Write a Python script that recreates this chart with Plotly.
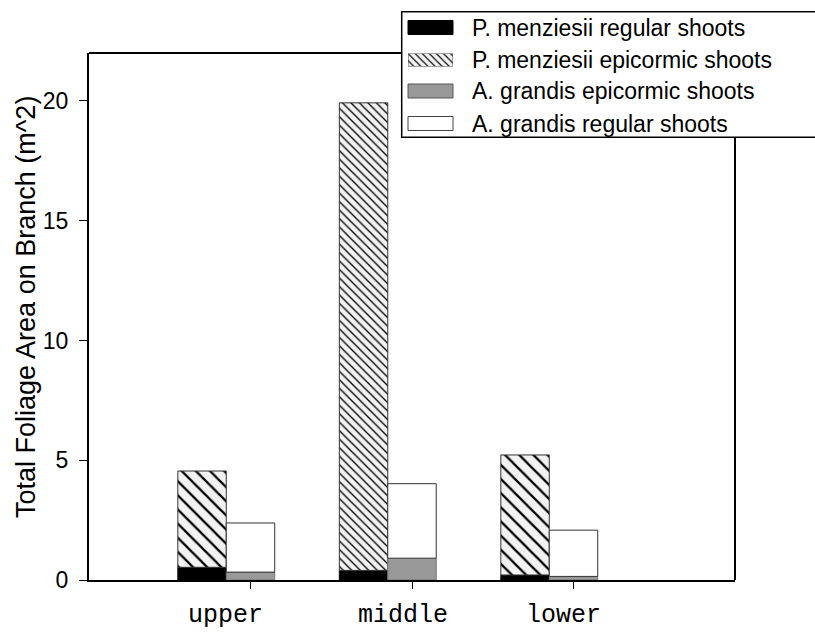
import plotly.graph_objects as go

# Crown position of the sampled branches
levels = ["upper", "middle", "lower"]

# Total foliage area per branch (m^2), split by species and shoot type
pm_regular = [0.53, 0.40, 0.21]
pm_epicormic = [4.02, 19.52, 5.01]
ag_epicormic = [0.33, 0.91, 0.15]
ag_regular = [2.05, 3.11, 1.93]

legend_labels = [
    "P. menziesii regular shoots",
    "P. menziesii epicormic shoots",
    "A. grandis epicormic shoots",
    "A. grandis regular shoots",
]
y_ticks = [0, 5, 10, 15, 20]

# Page geometry (px)
W, H = 815, 635
ML, MR, MT, MB = 89, 80, 53, 55
PW, PH = W - ML - MR, H - MT - MB


def fx(p):
    """Pixel column -> paper x."""
    return (p - ML) / PW


def fy(p):
    """Pixel row -> paper y."""
    return (H - MB - p) / PH


SANS = "Liberation Sans, Arial, sans-serif"
MONO = "Liberation Mono, Courier New, monospace"
BAR_W = 0.3
HATCH_BG = "#f2f2f2"


def hatch(size):
    return dict(shape="\\", size=size, solidity=0.22, fgcolor="black",
                bgcolor=HATCH_BG, fillmode="replace")


fig = go.Figure()

# P. menziesii: regular shoots at the base, epicormic stacked on top
fig.add_bar(x=levels, y=pm_regular, width=BAR_W, offset=-0.45,
            marker=dict(color="black", line=dict(color="black", width=1)))
fig.add_bar(x=levels, y=pm_epicormic, base=pm_regular, width=BAR_W, offset=-0.45,
            marker=dict(color=HATCH_BG, line=dict(color="#333333", width=1),
                        pattern=hatch([10, 6, 10])))

# A. grandis: epicormic shoots at the base, regular stacked on top
fig.add_bar(x=levels, y=ag_epicormic, width=BAR_W, offset=-0.15,
            marker=dict(color="#999999", line=dict(color="#777777", width=1)))
fig.add_bar(x=levels, y=ag_regular, base=ag_epicormic, width=BAR_W, offset=-0.15,
            marker=dict(color="white", line=dict(color="#333333", width=1)))

# Hatched legend swatch lives on its own tiny hidden axes
fig.add_bar(x=[0.5], y=[1], width=1, xaxis="x2", yaxis="y2",
            marker=dict(color=HATCH_BG, line=dict(color="#555555", width=1),
                        pattern=hatch(5)))

for tr in fig.data:
    tr.showlegend = False
    tr.hoverinfo = "skip"

# Custom legend: frame, swatches and labels
LEG_L, LEG_R, LEG_T, LEG_B = 401.7, 840, 11.7, 137.3
SW_L, SW_R = 408, 453
rows = [27.5, 60.0, 91.0, 123.5]
SW_H = 14

shapes = [
    # plot frame: top and right edges, stopping at the legend box
    dict(type="line", xref="paper", yref="paper", x0=0, x1=fx(LEG_L), y0=1, y1=1,
         line=dict(color="black", width=2), layer="above"),
    dict(type="line", xref="paper", yref="paper", x0=1, x1=1, y0=0, y1=fy(LEG_B),
         line=dict(color="black", width=2), layer="above"),
    # legend box
    dict(type="rect", xref="paper", yref="paper", x0=fx(LEG_L), x1=fx(LEG_R),
         y0=fy(LEG_B), y1=fy(LEG_T), line=dict(color="black", width=1.5),
         fillcolor="rgba(0,0,0,0)", layer="above"),
]
solid_swatches = {0: ("black", "black"), 2: ("#999999", "#555555"), 3: ("white", "#444444")}
for i, (fill, edge) in solid_swatches.items():
    shapes.append(dict(type="rect", xref="paper", yref="paper",
                       x0=fx(SW_L), x1=fx(SW_R),
                       y0=fy(rows[i] + SW_H / 2), y1=fy(rows[i] - SW_H / 2),
                       fillcolor=fill, line=dict(color=edge, width=1), layer="above"))

annotations = [
    dict(text=lab, xref="paper", yref="paper", x=fx(470), y=fy(r),
         xanchor="left", yanchor="middle", showarrow=False,
         font=dict(family=SANS, size=23, color="black"))
    for lab, r in zip(legend_labels, rows)
]
annotations.append(
    dict(text="Total Foliage Area on Branch (m^2)", xref="paper", yref="paper",
         x=fx(26), y=fy(307), xanchor="center", yanchor="middle", textangle=-90,
         showarrow=False, font=dict(family=SANS, size=27, color="black"))
)

# Category names under the x axis, nudged left of their ticks
label_nudge = [-25, -9, -10]
for lev, dx in zip(levels, label_nudge):
    annotations.append(
        dict(text=lev, xref="x", yref="paper", x=lev, y=0, xshift=dx, yshift=-35,
             xanchor="center", yanchor="middle", showarrow=False,
             font=dict(family=MONO, size=25, color="black"))
    )

fig.update_layout(
    width=W, height=H,
    margin=dict(l=ML, r=MR, t=MT, b=MB, autoexpand=False),
    paper_bgcolor="white", plot_bgcolor="white",
    barmode="overlay",
    shapes=shapes,
    annotations=annotations,
    xaxis=dict(type="category", categoryorder="array", categoryarray=levels,
               range=[-1, 3], showline=True, linecolor="black", linewidth=2,
               ticks="outside", ticklen=7, tickwidth=1, tickcolor="black",
               showticklabels=False,
               showgrid=False, zeroline=False, fixedrange=True),
    yaxis=dict(range=[0, 22], tickvals=y_ticks, showline=True, linecolor="black",
               linewidth=2, ticks="outside", ticklen=8, tickwidth=1.3,
               tickcolor="black", ticklabelstandoff=6,
               tickfont=dict(family=SANS, size=23, color="black"),
               showgrid=False, zeroline=False, fixedrange=True),
    xaxis2=dict(domain=[fx(SW_L), fx(SW_R)], range=[0, 1], anchor="y2",
                visible=False, fixedrange=True),
    yaxis2=dict(domain=[fy(rows[1] + 6.5), fy(rows[1] - 6.5)], range=[0, 1],
                anchor="x2", visible=False, fixedrange=True),
    showlegend=False,
)

fig.write_html("out.html")
